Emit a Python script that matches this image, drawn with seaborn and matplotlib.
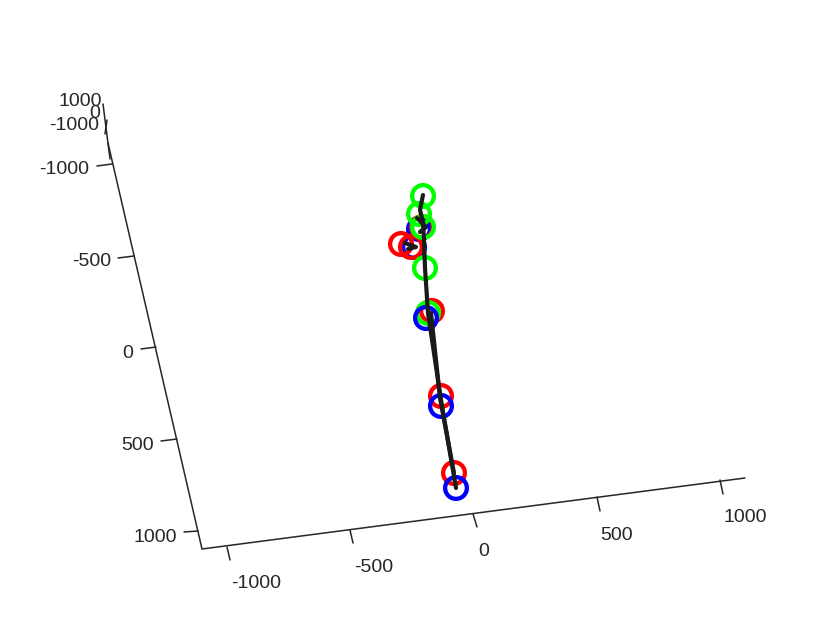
import matplotlib
matplotlib.use('Agg')
import matplotlib.pyplot as plt
import pandas as pd
import seaborn as sns

# positions (projected 3D plot)
red_x = [422, 401, 411, 432, 441, 454]
red_y = [227, 244, 247, 311, 396, 473]
green_x = [423, 419, 423, 425, 428]
green_y = [196, 214, 227, 268, 313]
blue_x = [419, 414, 426, 441, 456]
blue_y = [229, 247, 318, 406, 488]

bone_a_x = [423, 420, 423, 424, 425, 428, 441, 456]
bone_a_y = [195, 210, 222, 240, 268, 313, 400, 488]
bone_b_x = [431, 440, 454]
bone_b_y = [313, 398, 473]
bone_c_x = [417, 426, 420]
bone_c_y = [218, 227, 232]
bone_d_x = [405, 416, 408]
bone_d_y = [243, 247, 249]

x_tick_labels = ['-1000', '-500', '0', '500', '1000']
x_tick_start = [(227, 547), (350, 530), (473, 514), (597, 497), (720, 480)]
x_tick_end = [(230, 560), (353, 543), (477, 527), (600, 511), (723, 494)]
x_label_pos = [(256, 583), (374, 568), (484, 551), (617, 535), (745, 518)]

y_tick_labels = ['-1000', '-500', '0', '500', '1000']
y_tick_start = [(112, 164), (134, 256), (156, 347), (177, 439), (198, 531)]
y_tick_end = [(97, 166), (118, 258), (141, 349), (161, 441), (184, 532)]
y_label_pos = [(89, 170), (111, 262), (133, 353), (154, 445), (177, 537)]

z_tick_labels = ['1000', '0', '-1000']
z_tick_start = [(107, 120)]
z_tick_end = [(105, 134)]
z_label_pos = [(102, 101), (100, 113), (99, 126)]

axis_lines = [[(745, 478), (202, 549), (108, 143)], [(110, 159), (103, 104)]]

sns.set_theme(style='white')
plt.rcParams['font.family'] = ['Liberation Sans', 'DejaVu Sans']

fig = plt.figure(figsize=(8.22, 6.17), dpi=100)
ax = fig.add_axes([0, 0, 1, 1])

ink = '#262626'
for pts in axis_lines:
    ax.plot([p[0] for p in pts], [p[1] for p in pts], color=ink, lw=1.1, solid_joinstyle='miter')
for starts, ends in [(x_tick_start, x_tick_end), (y_tick_start, y_tick_end), (z_tick_start, z_tick_end)]:
    for s, e in zip(starts, ends):
        ax.plot([s[0], e[0]], [s[1], e[1]], color=ink, lw=1.1)

for lab, p in zip(x_tick_labels, x_label_pos):
    ax.text(p[0], p[1], lab, ha='center', va='center', fontsize=14, color=ink)
for lab, p in zip(y_tick_labels, y_label_pos):
    ax.text(p[0], p[1], lab, ha='right', va='center', fontsize=14, color=ink)
for lab, p in zip(z_tick_labels, z_label_pos):
    ax.text(p[0], p[1], lab, ha='right', va='center', fontsize=14, color=ink)

# stacking as in the reference: lower blue circles sit on top
layers = [
    (blue_x[:2], blue_y[:2], '#0000ff'),
    (red_x, red_y, '#ff0000'),
    (green_x, green_y, '#00ff00'),
    (blue_x[2:], blue_y[2:], '#0000ff'),
]
for lx, ly, col in layers:
    sub = pd.DataFrame({'x': lx, 'y': ly})
    sns.scatterplot(data=sub, x='x', y='y', ax=ax, s=245, marker='o', facecolors='none',
                    edgecolor=col, linewidth=3.1, legend=False, zorder=3)

for bx, by in [(bone_a_x, bone_a_y), (bone_b_x, bone_b_y), (bone_c_x, bone_c_y), (bone_d_x, bone_d_y)]:
    sns.lineplot(x=bx, y=by, ax=ax, sort=False, estimator=None, color='#1a1a1a', lw=3.0, zorder=4)

ax.set_xlim(0, 822)
ax.set_ylim(617, 0)
ax.axis('off')
fig.savefig('out.png', dpi=100)
